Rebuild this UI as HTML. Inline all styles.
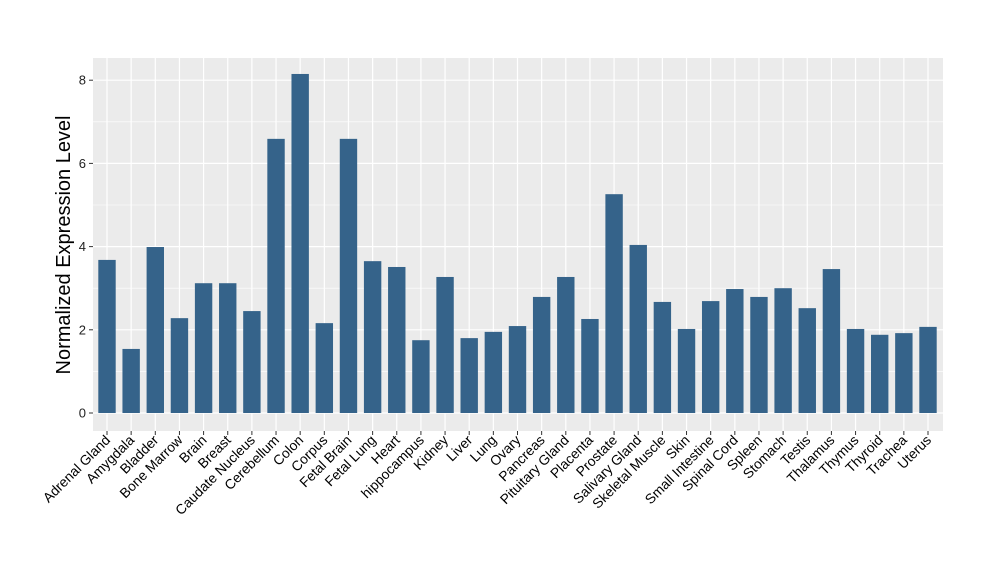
<!DOCTYPE html>
<html><head><meta charset="utf-8"><style>body{margin:0;background:#fff}svg{display:block}</style></head>
<body>
<svg width="1000" height="580" xmlns="http://www.w3.org/2000/svg" font-family="Liberation Sans, sans-serif">
<rect x="93" y="58" width="850" height="373" fill="#ebebeb"/>
<g id="grid"></g>
<g id="bars"></g>
<g id="labels"></g>
<text transform="translate(70,245) rotate(-90)" text-anchor="middle" font-size="20" fill="#000">Normalized Expression Level</text>
<script>
var ns="http://www.w3.org/2000/svg";
function el(t,a,p,txt){var e=document.createElementNS(ns,t);for(var k in a)e.setAttribute(k,a[k]);if(txt!=null)e.textContent=txt;document.getElementById(p).appendChild(e);return e;}
var y0=413,s=41.6;
for(var v=1;v<=9;v+=2){var y=y0-v*s;if(y>58)el("line",{x1:93,x2:943,y1:y,y2:y,stroke:"#fff","stroke-width":0.6},"grid");}
for(var v=0;v<=8;v+=2){var y=y0-v*s;el("line",{x1:93,x2:943,y1:y,y2:y,stroke:"#fff","stroke-width":1.2},"grid");
el("line",{x1:89,x2:93,y1:y,y2:y,stroke:"#333"},"labels");
el("text",{x:86,y:y+4.5,"text-anchor":"end","font-size":13,fill:"#222"},"labels",v);}
var d=[["Adrenal Gland",3.68],["Amygdala",1.54],["Bladder",3.99],["Bone Marrow",2.28],["Brain",3.12],["Breast",3.12],["Caudate Nucleus",2.45],["Cerebellum",6.59],["Colon",8.15],["Corpus",2.16],["Fetal Brain",6.59],["Fetal Lung",3.65],["Heart",3.51],["hippocampus",1.75],["Kidney",3.27],["Liver",1.8],["Lung",1.95],["Ovary",2.09],["Pancreas",2.79],["Pituitary Gland",3.27],["Placenta",2.26],["Prostate",5.26],["Salivary Gland",4.04],["Skeletal Muscle",2.67],["Skin",2.02],["Small Intestine",2.69],["Spinal Cord",2.98],["Spleen",2.79],["Stomach",3.0],["Testis",2.52],["Thalamus",3.46],["Thymus",2.02],["Thyroid",1.88],["Trachea",1.92],["Uterus",2.07]];
var sp=(928-107)/34;
d.forEach(function(r,i){var c=107+i*sp;
el("line",{x1:c,x2:c,y1:58,y2:431,stroke:"#fff","stroke-width":1.2},"grid");
el("rect",{x:c-8.7,y:y0-r[1]*s,width:17.4,height:r[1]*s,fill:"#35638a"},"bars");
el("line",{x1:c,x2:c,y1:431,y2:435,stroke:"#333"},"labels");
el("text",{transform:"translate("+(c+4)+",441) rotate(-45)","text-anchor":"end","font-size":13.8,fill:"#000"},"labels",r[0]);});
</script>
</svg>
</body></html>
